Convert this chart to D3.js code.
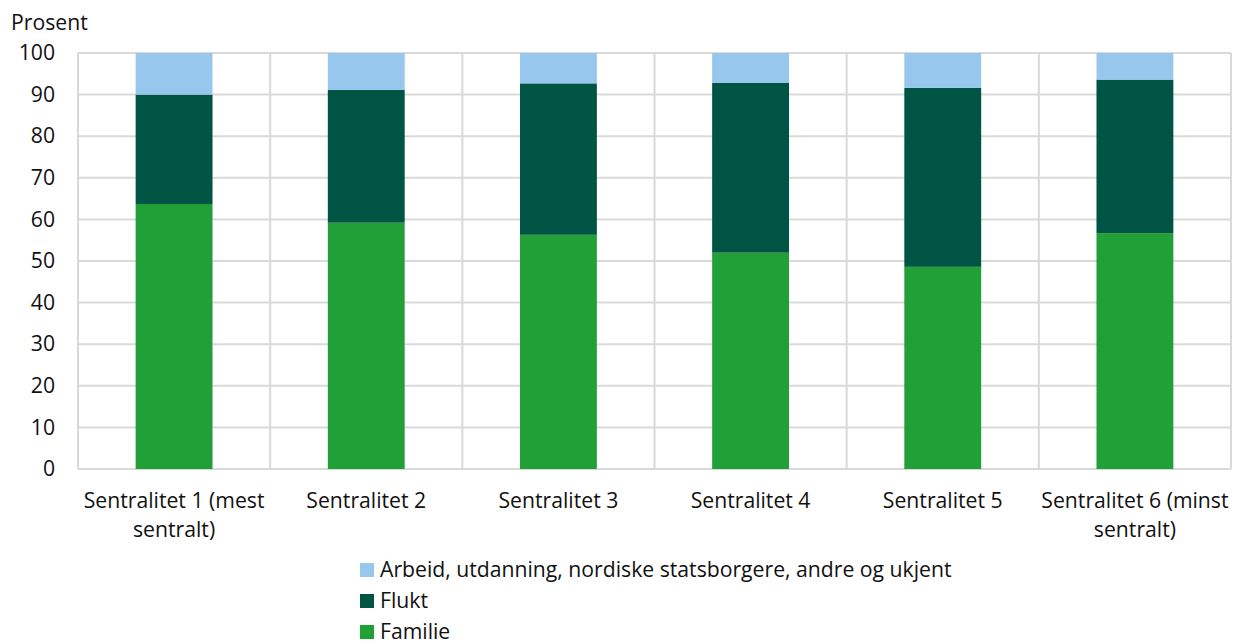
<!DOCTYPE html>
<html>
<head>
<meta charset="utf-8">
<script src="https://cdn.jsdelivr.net/npm/d3@7"></script>
<style>
  body { margin: 0; background: #fff; }
  svg { font-family: "Open Sans", sans-serif; }
</style>
</head>
<body>
<svg id="chart"></svg>
<script>
let categories = [
    ["Sentralitet 1 (mest", "sentralt)"],
    ["Sentralitet 2"],
    ["Sentralitet 3"],
    ["Sentralitet 4"],
    ["Sentralitet 5"],
    ["Sentralitet 6 (minst", "sentralt)"]
];
let familie = [63.7, 59.2, 56.3, 52.0, 48.6, 56.7];
let flukt = [26.3, 31.9, 36.4, 40.8, 43.0, 36.9];
let arbeid = [10.0, 8.9, 7.3, 7.2, 8.4, 6.4];
let yTicks = [0, 10, 20, 30, 40, 50, 60, 70, 80, 90, 100];

let seriesNames = ["Familie", "Flukt", "Arbeid, utdanning, nordiske statsborgere, andre og ukjent"];
let seriesColors = ["#21a038", "#005444", "#97c7ec"];

let width = 1234;
let height = 641;
let margin = { left: 78, right: 3, top: 53, bottom: 172 };
let fontSize = 21.2;
let textColor = "#111";

let svg = d3.select("#chart")
    .attr("width", width)
    .attr("height", height);

let rows = categories.map((c, i) => ({ idx: i, Familie: familie[i], Flukt: flukt[i], Arbeid: arbeid[i] }));
let stack = d3.stack().keys(["Familie", "Flukt", "Arbeid"]);
let stacked = stack(rows);

// band with no padding gives category boundaries for the vertical grid
let xGrid = d3.scaleBand()
    .domain(d3.range(categories.length))
    .range([margin.left, width - margin.right]);

let xScale = d3.scaleBand()
    .domain(d3.range(categories.length))
    .range([margin.left, width - margin.right])
    .paddingInner(0.6)
    .paddingOuter(0.3);

let yScale = d3.scaleLinear()
    .domain([0, 100])
    .range([height - margin.bottom, margin.top]);

let gridColor = "#d9d9d9";

// horizontal gridlines
svg.append("g")
    .selectAll("line")
    .data(yTicks)
    .enter()
    .append("line")
    .attr("x1", margin.left)
    .attr("x2", width - margin.right)
    .attr("y1", d => yScale(d))
    .attr("y2", d => yScale(d))
    .attr("stroke", gridColor)
    .attr("stroke-width", 2);

// vertical gridlines at category boundaries
let boundaries = d3.range(categories.length + 1).map(i => margin.left + i * xGrid.step());
svg.append("g")
    .selectAll("line")
    .data(boundaries)
    .enter()
    .append("line")
    .attr("x1", d => d)
    .attr("x2", d => d)
    .attr("y1", yScale(100))
    .attr("y2", yScale(0))
    .attr("stroke", gridColor)
    .attr("stroke-width", 2);

// stacked bars
svg.append("g")
    .selectAll("g")
    .data(stacked)
    .enter()
    .append("g")
    .attr("fill", (d, i) => seriesColors[i])
    .selectAll("rect")
    .data(d => d)
    .enter()
    .append("rect")
    .attr("x", d => xScale(d.data.idx))
    .attr("width", xScale.bandwidth())
    .attr("y", d => yScale(d[1]))
    .attr("height", d => yScale(d[0]) - yScale(d[1]));

// y axis labels
let yAxis = d3.axisLeft(yScale).tickValues(yTicks).tickSize(0).tickPadding(23);
let yG = svg.append("g")
    .attr("transform", "translate(" + margin.left + ",0)")
    .call(yAxis);
yG.select(".domain").remove();
yG.selectAll("text")
    .attr("font-size", fontSize)
    .attr("font-family", "Open Sans, sans-serif")
    .attr("fill", textColor);

// x axis labels (wrapped)
let xLabels = svg.append("g");
categories.forEach((lines, i) => {
    let t = xLabels.append("text")
        .attr("x", xGrid(i) + xGrid.bandwidth() / 2)
        .attr("y", 508)
        .attr("text-anchor", "middle")
        .attr("font-size", fontSize)
        .attr("fill", textColor);
    lines.forEach((line, j) => {
        t.append("tspan")
            .attr("x", xGrid(i) + xGrid.bandwidth() / 2)
            .attr("dy", j === 0 ? 0 : 29)
            .text(line);
    });
});

// unit label
svg.append("text")
    .attr("x", 11)
    .attr("y", 30)
    .attr("font-size", fontSize)
    .attr("fill", textColor)
    .text("Prosent");

// legend, top entry is the top of the stack
let legendOrder = [2, 1, 0];
let legend = svg.append("g").attr("transform", "translate(360, 570)");
legendOrder.forEach((s, k) => {
    let row = legend.append("g").attr("transform", "translate(0," + (k * 31) + ")");
    row.append("rect")
        .attr("x", 0)
        .attr("y", -7)
        .attr("width", 14)
        .attr("height", 14)
        .attr("fill", seriesColors[s]);
    row.append("text")
        .attr("x", 20)
        .attr("y", 0)
        .attr("dy", "0.35em")
        .attr("font-size", fontSize)
        .attr("fill", textColor)
        .text(seriesNames[s]);
});
</script>
</body>
</html>
